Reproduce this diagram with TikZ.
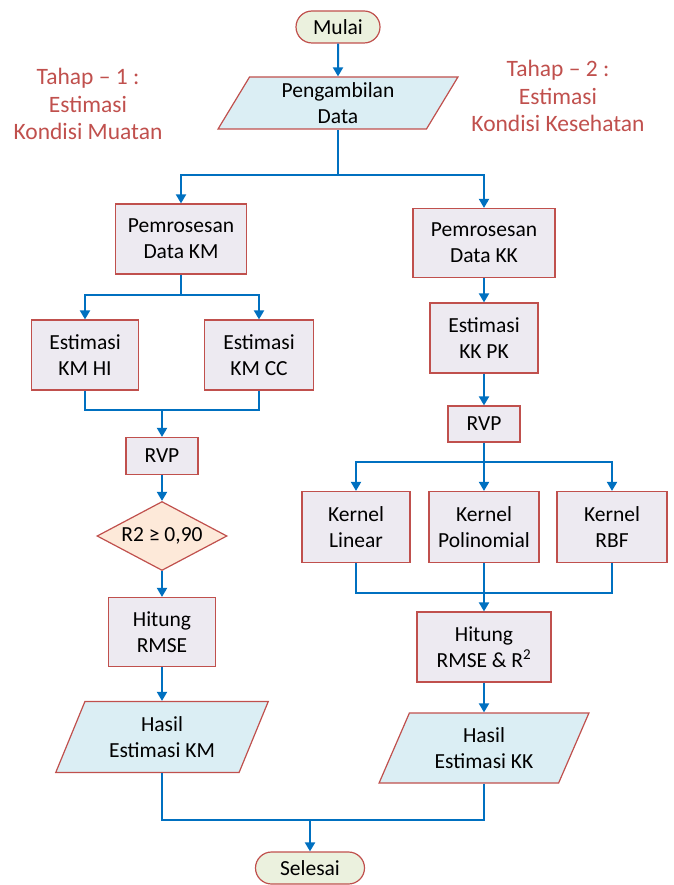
\documentclass[tikz,border=0pt]{standalone}
\usepackage{fontspec}
\setmainfont{Carlito}
\usepackage{tikz}
\usetikzlibrary{arrows.meta,shapes.geometric,shapes.misc,calc}
\definecolor{garis}{HTML}{C0504D}
\definecolor{biru}{HTML}{0070C0}
\definecolor{prosesisi}{HTML}{EDEAF1}
\definecolor{dataisi}{HTML}{DBEEF4}
\definecolor{mulaiisi}{HTML}{EBF1DE}
\definecolor{kondisiisi}{HTML}{FDE9D9}

\begin{document}
\begin{tikzpicture}[x=1pt,y=-1pt,
  font=\fontsize{21.5}{26}\selectfont,
  proses/.style={rectangle,draw=garis,fill=prosesisi,line width=1.2pt,align=center,inner sep=0pt},
  data/.style={trapezium,trapezium left angle=64,trapezium right angle=116,trapezium stretches=true,
    draw=garis,fill=dataisi,line width=1.2pt,align=center,inner sep=0pt},
  terminal/.style={rounded rectangle,draw=garis,fill=mulaiisi,line width=1.2pt,inner sep=0pt,
    minimum height=32pt},
  kondisi/.style={diamond,draw=garis,fill=kondisiisi,line width=1.2pt,inner sep=0pt,aspect=1.9},
  tahap/.style={text=garis,align=center,font=\fontsize{23.5}{27.5}\selectfont},
  garisbiru/.style={draw=biru,line width=2pt},
  panah/.style={garisbiru,-{Triangle[length=9pt,width=10pt]}}]
\useasboundingbox (0,0) rectangle (673,885);

% judul tahap
\node[tahap] (tahap1) at (88,104) {Tahap -- 1 :\\Estimasi\\Kondisi Muatan};
\node[tahap] (tahap2) at (558,96) {Tahap -- 2 :\\Estimasi\\Kondisi Kesehatan};

% alur utama
\node[terminal,minimum width=84pt] (mulai) at (338,27) {Mulai};
\node[data,minimum width=240pt,minimum height=52pt] (ambil) at (338,103) {Pengambilan\\Data};

% tahap 1
\node[proses,minimum width=131pt,minimum height=70pt] (prosKM) at (181,239) {Pemrosesan\\Data KM};
\node[proses,minimum width=107pt,minimum height=70pt] (estHI) at (85,355) {Estimasi\\KM HI};
\node[proses,minimum width=109pt,minimum height=70pt] (estCC) at (259,355) {Estimasi\\KM CC};
\node[proses,minimum width=72pt,minimum height=37pt] (rvpKM) at (162,456) {RVP};
\node[kondisi,minimum width=130pt,minimum height=69pt] (r2) at (162,536) {R2 ≥ 0,90};
\node[proses,minimum width=107pt,minimum height=69pt] (hitKM) at (162,632) {Hitung\\RMSE};
\node[data,minimum width=213pt,minimum height=71pt] (hasilKM) at (162,737) {Hasil\\Estimasi KM};

% tahap 2
\node[proses,minimum width=142pt,minimum height=69pt] (prosKK) at (484,243) {Pemrosesan\\Data KK};
\node[proses,minimum width=108pt,minimum height=70pt] (estPK) at (484,338) {Estimasi\\KK PK};
\node[proses,minimum width=72pt,minimum height=36pt] (rvpKK) at (484,424) {RVP};
\node[proses,minimum width=108pt,minimum height=71pt] (kLin) at (356,527) {Kernel\\Linear};
\node[proses,minimum width=110pt,minimum height=71pt] (kPol) at (484,527) {Kernel\\Polinomial};
\node[proses,minimum width=110pt,minimum height=71pt] (kRBF) at (612,527) {Kernel\\RBF};
\node[proses,minimum width=134pt,minimum height=70pt] (hitKK) at (484,647) {Hitung\\RMSE \& R\textsuperscript{2}};
\node[data,minimum width=210pt,minimum height=70pt] (hasilKK) at (484,748) {Hasil\\Estimasi KK};

\node[terminal,minimum width=109pt] (selesai) at (310,868) {Selesai};

% titik cabang
\coordinate (c1) at (338,175);
\coordinate (c2) at (181,295);
\coordinate (c3) at (162,410);
\coordinate (c5) at (484,462);
\coordinate (c6) at (484,593);
\coordinate (c4) at (310,820);

\draw[panah] (mulai) -- (ambil);
\draw[panah] (ambil) -- (c1) -| (prosKM);
\draw[panah] (c1) -| (prosKK);

\draw[panah] (prosKM) -- (c2) -| (estHI);
\draw[panah] (c2) -| (estCC);
\draw[garisbiru] (estHI) |- (c3);
\draw[garisbiru] (estCC) |- (c3);
\draw[panah] (c3) -- (rvpKM);
\draw[panah] (rvpKM) -- (r2);
\draw[panah] (r2) -- (hitKM);
\draw[panah] (hitKM) -- (hasilKM);

\draw[panah] (prosKK) -- (estPK);
\draw[panah] (estPK) -- (rvpKK);
\draw[garisbiru] (rvpKK) -- (c5);
\draw[panah] (c5) -| (kLin);
\draw[panah] (c5) -- (kPol);
\draw[panah] (c5) -| (kRBF);
\draw[garisbiru] (kLin) |- (c6);
\draw[garisbiru] (kPol) -- (c6);
\draw[garisbiru] (kRBF) |- (c6);
\draw[panah] (c6) -- (hitKK);
\draw[panah] (hitKK) -- (hasilKK);

\draw[garisbiru] (hasilKM) |- (c4);
\draw[garisbiru] (hasilKK) |- (c4);
\draw[panah] (c4) -- (selesai);
\end{tikzpicture}
\end{document}
